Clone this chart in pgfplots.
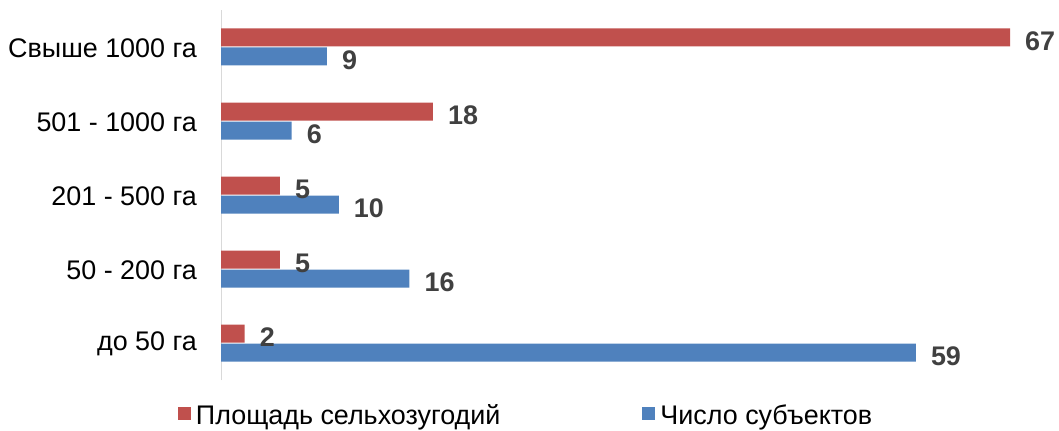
\documentclass[border=0pt]{standalone}
\usepackage{pgfplots}
\pgfplotsset{compat=1.18}
\usepackage{fontspec}
\setmainfont{Liberation Sans}
\definecolor{red1}{HTML}{C0504D}
\definecolor{blue1}{HTML}{4F81BD}
\definecolor{lab}{HTML}{404040}
\definecolor{axgray}{HTML}{D9D9D9}
\begin{document}
\begin{tikzpicture}[x=1bp,y=1bp]
\path[use as bounding box] (0,0) rectangle (1059,430);
\begin{axis}[
 at={(221bp,50bp)}, anchor=south west,
 scale only axis, width=789bp, height=370bp,
 xmin=0, xmax=67, ymin=-0.5, ymax=4.5,
 xbar, bar width=18bp,
 /pgf/number format/assume math mode=true,
 axis x line=none, axis y line*=left,
 y axis line style={draw=axgray, line width=1bp},
 ytick={0,1,2,3,4},
 yticklabels={до 50 га, 50 - 200 га, 201 - 500 га, 501 - 1000 га, Свыше 1000 га},
 major tick length=0pt,
 yticklabel style={font=\fontsize{27}{31}\selectfont, inner sep=0pt, xshift=-24bp, yshift=-1bp},
 nodes near coords,
 nodes near coords style={font=\fontsize{27}{31}\selectfont\bfseries, text=lab, anchor=west, inner sep=0pt, xshift=15bp, yshift=-3.5bp},
 clip=false,
 legend columns=2,
 legend image code/.code={\fill[#1] (0bp,-4bp) rectangle (13bp,9bp);},
 legend style={at={(-0.0545,-0.0960)}, anchor=west, draw=none, fill=none,
   inner sep=0pt, outer sep=0pt, font=\fontsize{27}{31}\selectfont,
   nodes={inner sep=0pt},
   /tikz/every odd column/.append style={column sep=5bp},
   /tikz/every even column/.append style={column sep=142bp}},
 legend cell align=left,
]
\addplot[fill=red1, draw=none, bar shift=9.5bp] coordinates {(2,0) (5,1) (5,2) (18,3) (67,4)};
\addplot[fill=blue1, draw=none, bar shift=-9.5bp] coordinates {(59,0) (16,1) (10,2) (6,3) (9,4)};
\legend{Площадь сельхозугодий, Число субъектов}
\end{axis}
\end{tikzpicture}
\end{document}
